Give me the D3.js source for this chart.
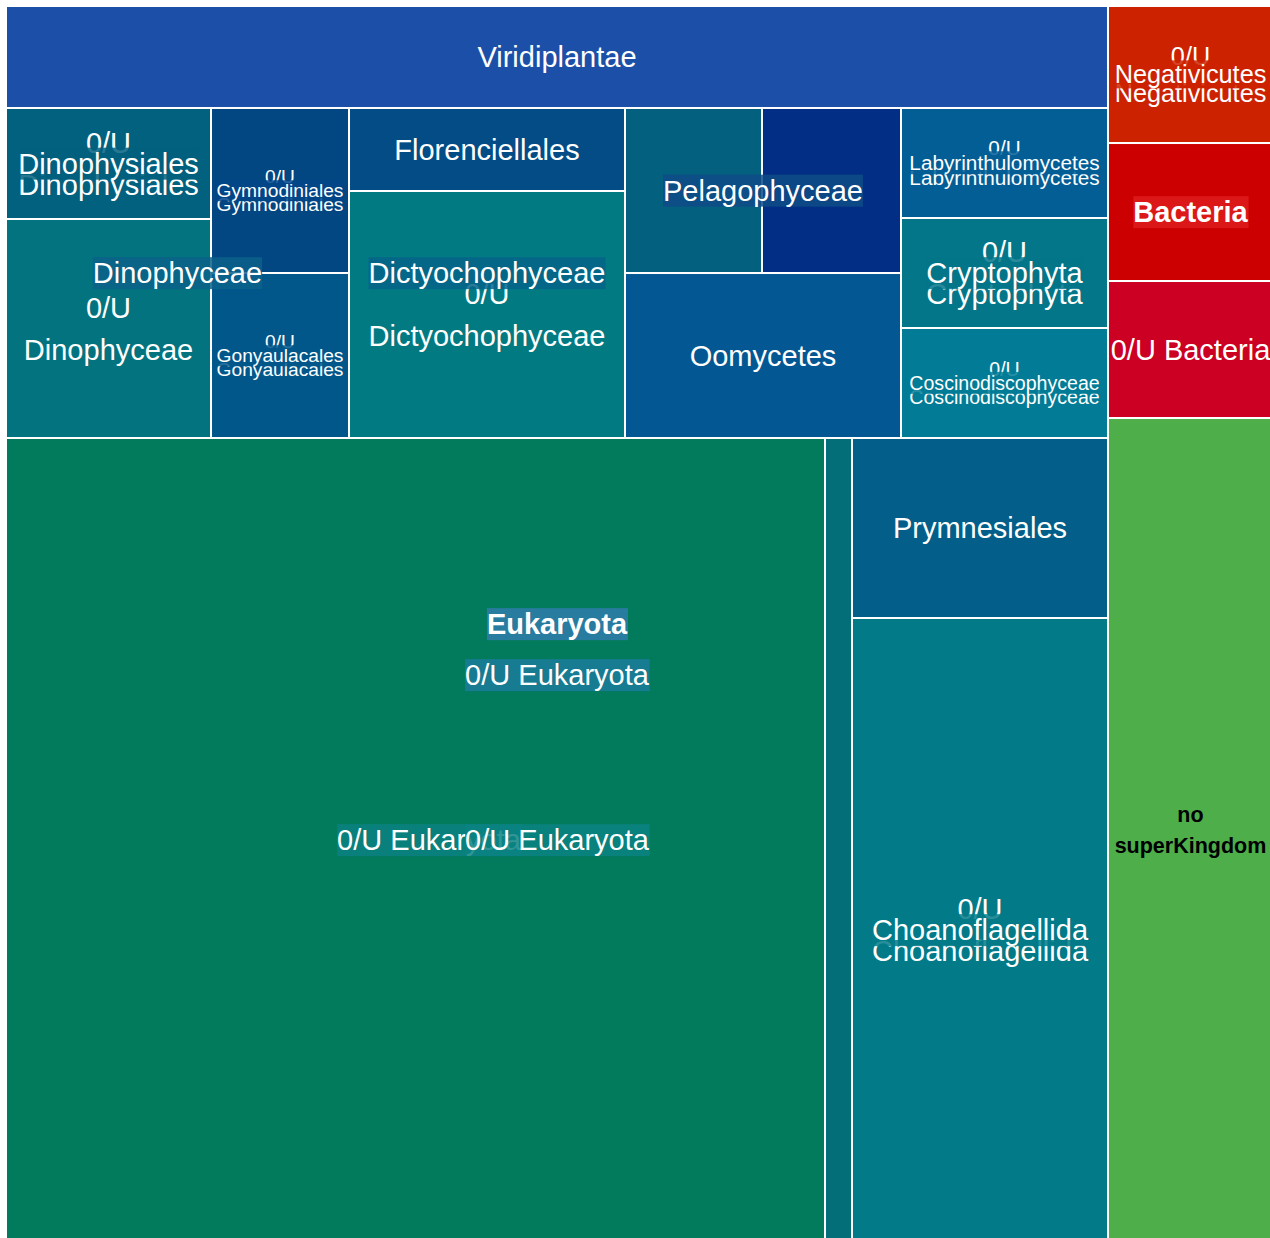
<!DOCTYPE html>
<html>
<head>
<meta charset="utf-8">
<script src="https://cdn.jsdelivr.net/npm/d3@7"></script>
<style>
body { margin: 0; overflow: hidden; background: #fff; }
text { font-family: "Liberation Sans", Arial, sans-serif; }
</style>
</head>
<body>
<div id="container"></div>
<script>
// taxonomy tree, one entry per node
const ids = ["root", "euk", "virid", "k0u", "dino", "dinophysiales", "dinophysiales0u", "dino0u", "gymno", "gymno0u", "gony", "gony0u",
    "dicty", "floren", "dicty0u", "pel", "pelA", "pelB", "oomy", "laby", "laby0u", "crypto", "crypto0u", "cosc", "cosc0u",
    "p0u", "c0u", "euk0u", "strip", "prym", "choano", "choano0u", "bact", "neg", "neg0u", "bactX", "bact0u", "nosk"];
const parents = ["", "root", "euk", "euk", "k0u", "dino", "dinophysiales", "dino", "dino", "gymno", "dino", "gony",
    "k0u", "dicty", "dicty", "k0u", "pel", "pel", "k0u", "k0u", "laby", "k0u", "crypto", "k0u", "cosc",
    "k0u", "p0u", "c0u", "c0u", "p0u", "p0u", "choano", "root", "bact", "neg", "bact", "bact", "root"];
const names = ["", "Eukaryota", "Viridiplantae", "0/U Eukaryota", "Dinophyceae", "Dinophysiales", "0/U Dinophysiales", "0/U Dinophyceae",
    "Gymnodiniales", "0/U Gymnodiniales", "Gonyaulacales", "0/U Gonyaulacales",
    "Dictyochophyceae", "Florenciellales", "0/U Dictyochophyceae", "Pelagophyceae", "", "", "Oomycetes",
    "Labyrinthulomycetes", "0/U Labyrinthulomycetes", "Cryptophyta", "0/U Cryptophyta", "Coscinodiscophyceae", "0/U Coscinodiscophyceae",
    "0/U Eukaryota", "0/U Eukaryota", "", "", "Prymnesiales", "Choanoflagellida", "0/U Choanoflagellida",
    "Bacteria", "Negativicutes", "0/U Negativicutes", "", "0/U Bacteria", "no superKingdom"];
// read counts (leaves only, internal nodes are summed)
const values = [0, 0, 11240, 0, 0, 0, 2276, 4490, 0, 2277, 0, 2277,
    0, 2291, 6817, 0, 2261, 2294, 4554, 0, 2277, 0, 2277, 0, 2277,
    0, 0, 65848, 2171, 4608, 0, 15974, 0, 0, 2261, 2277, 2261, 13596];

const fills = {
    euk: "#2f7cab", virid: "#1c50a8", k0u: "#1b7b9b", dino: "#0a628a", dinophysiales: "#02607f", dinophysiales0u: "#01617f",
    dino0u: "#037380", gymno: "#02468a", gymno0u: "#024682", gony: "#02578a", gony0u: "#02578a",
    dicty: "#05648a", floren: "#034c86", dicty0u: "#027a82", pel: "#0e4b86", pelA: "#03607f", pelB: "#022f85",
    oomy: "#035894", laby: "#035e96", laby0u: "#035e96", crypto: "#037689", crypto0u: "#037689",
    cosc: "#027c96", cosc0u: "#027c96", p0u: "#0b8283", c0u: "#0b8181", euk0u: "#027b5c", strip: "#036d78",
    prym: "#035f89", choano: "#027a87", choano0u: "#027a87",
    bact: "#de1b1b", neg: "#cc2200", neg0u: "#cc2200", bactX: "#cc0000", bact0u: "#cc0022", nosk: "#4dae4a"
};

var margin = { top: 6, left: 6 }, width = 1267, height = 1236;
var baseSize = 29;

var table = ids.map(function (id, i) {
    return { id: id, parent: parents[i], name: names[i], value: values[i] };
});
var root = d3.stratify().id(function (d) { return d.id; }).parentId(function (d) { return d.parent; })(table)
    .sum(function (d) { return d.value; });
d3.treemap().tile(d3.treemapBinary).size([width, height])(root);

var svg = d3.select('#container').append('svg').attr('width', 1280).attr('height', 1250)
    .append('g').attr('transform', 'translate(' + margin.left + ', ' + margin.top + ')');

svg.selectAll('.cell').data(root.leaves()).enter().append('rect').attr('class', 'cell')
    .attr('x', function (d) { return d.x0; })
    .attr('y', function (d) { return d.y0; })
    .attr('width', function (d) { return d.x1 - d.x0; })
    .attr('height', function (d) { return d.y1 - d.y0; })
    .attr('fill', function (d) { return fills[d.id]; })
    .attr('stroke', '#fff').attr('stroke-width', 2);

// labels: deepest first so parent labels sit on top
var labelled = root.descendants().filter(function (d) { return d.depth > 0 && d.data.name !== ''; })
    .sort(function (a, b) { return b.depth - a.depth; });
var layer = svg.append('g');
labelled.forEach(function (d) {
    var w = d.x1 - d.x0, cx = (d.x0 + d.x1) / 2, cy = (d.y0 + d.y1) / 2;
    var g = layer.append('g');
    var box = d.children ? g.append('rect') : null;
    var t = g.append('text').attr('text-anchor', 'middle').attr('font-size', baseSize)
        .attr('font-weight', d.depth === 1 ? 'bold' : 'normal')
        .attr('fill', d3.lab(fills[d.id]).l > 55 ? '#000' : '#fff');
    t.text(d.data.name);
    var lines = [d.data.name], fs = baseSize;
    if (t.node().getComputedTextLength() > w - 4) {
        lines = d.data.name.split(' ');
        var widest = d3.max(lines, function (s) { t.text(s); return t.node().getComputedTextLength(); });
        fs = Math.min(baseSize, baseSize * 0.92 * w / widest);
    }
    t.text(null).attr('font-size', fs);
    lines.forEach(function (s, i) {
        t.append('tspan').attr('x', cx).attr('y', cy + (i - (lines.length - 1) / 2) * 1.45 * fs)
            .attr('dy', '0.35em').text(s);
    });
    if (box) {
        var b = t.node().getBBox();
        box.attr('x', b.x).attr('y', b.y).attr('width', b.width).attr('height', b.height)
            .attr('fill', fills[d.id]).attr('fill-opacity', 0.85);
    }
});
</script>
</body>
</html>
